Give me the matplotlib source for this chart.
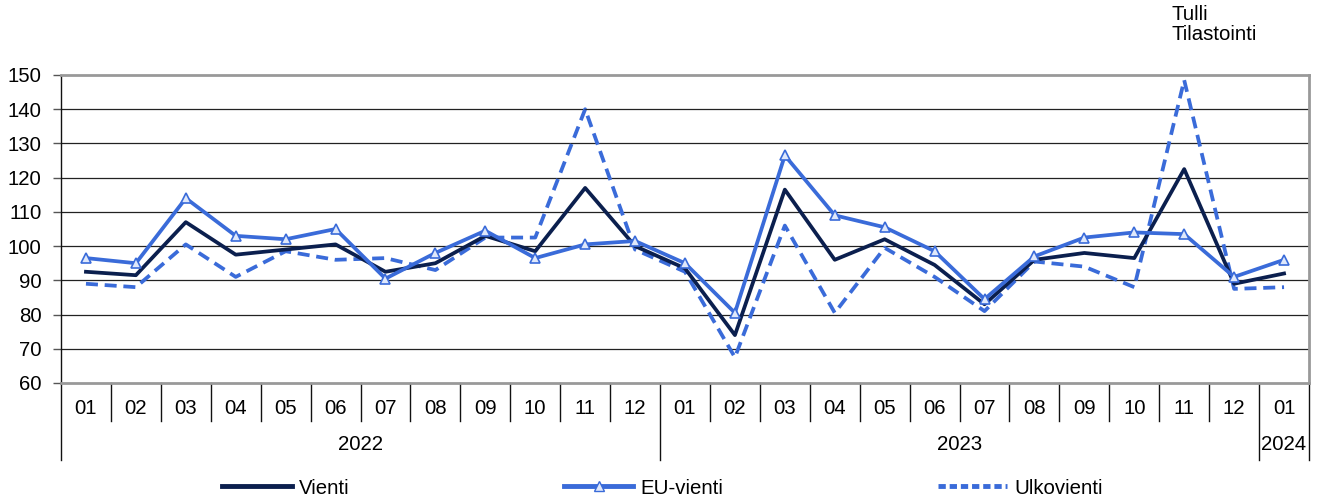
import matplotlib
matplotlib.use("Agg")
import matplotlib.pyplot as plt
from matplotlib.lines import Line2D
import matplotlib.transforms as mtransforms

plt.rcParams['font.family'] = ['Liberation Sans', 'DejaVu Sans']

months = ["01", "02", "03", "04", "05", "06", "07", "08", "09", "10", "11", "12",
          "01", "02", "03", "04", "05", "06", "07", "08", "09", "10", "11", "12",
          "01"]
years = ["2022", "2023", "2024"]
year_counts = [12, 12, 1]

vienti = [92.5, 91.5, 107, 97.5, 99, 100.5, 92.5, 95, 103, 98.5, 117, 100,
          93.5, 74, 116.5, 96, 102, 94.5, 83, 96, 98, 96.5, 122.5, 89, 92]
eu_vienti = [96.5, 95, 114, 103, 102, 105, 90.5, 98, 104.5, 96.5, 100.5, 101.5,
             95, 80.5, 126.5, 109, 105.5, 98.5, 84.5, 97, 102.5, 104, 103.5, 91, 96]
ulkovienti = [89, 88, 100.5, 91, 98.5, 96, 96.5, 93, 102.5, 102.5, 140, 99,
              92.5, 67.5, 106, 80.5, 99.5, 91, 81, 95.5, 94, 88, 148.5, 87.5, 88]

navy = '#0b1f4e'
blue = '#3a6bd9'
FS = 14.7

W, H = 1325, 504
fig = plt.figure(figsize=(W / 100, H / 100), dpi=100)
left, right, top, bottom = 61, 1309, 75, 383
ax = fig.add_axes([left / W, (H - bottom) / H, (right - left) / W, (bottom - top) / H])

x = list(range(len(months)))
ax.plot(x, ulkovienti, color=blue, lw=2.7, dashes=(3.2, 1.8), label='Ulkovienti', zorder=3)
ax.plot(x, vienti, color=navy, lw=2.7, label='Vienti', zorder=4)
ax.plot(x, eu_vienti, color=blue, lw=2.7, marker='^', ms=7, mfc='#dfe8fb', mec=blue,
        mew=1.2, label='EU-vienti', zorder=5)

ax.set_xlim(-0.5, len(months) - 0.5)
ax.set_ylim(60, 150)
ax.set_yticks(range(60, 151, 10))
ax.tick_params(axis='y', labelsize=FS, length=6, width=1, color='#555555', pad=8)
ax.set_xticks([])
for v in range(70, 150, 10):
    ax.axhline(v, color='#222222', lw=0.9, zorder=1)

for s in ['top', 'right', 'bottom']:
    ax.spines[s].set_color('#999999')
    ax.spines[s].set_linewidth(2)
ax.spines['left'].set_color('#111111')
ax.spines['left'].set_linewidth(1)

trans = mtransforms.blended_transform_factory(ax.transData, ax.transAxes)
ph = bottom - top
m_y = -(409 - bottom) / ph
y_y = -(444 - bottom) / ph
tick_end = -(421 - bottom) / ph
year_end = -(460 - bottom) / ph

for i, m in enumerate(months):
    ax.text(i, m_y, m, transform=trans, ha='center', va='center', fontsize=FS)

boundaries = [0]
for c in year_counts:
    boundaries.append(boundaries[-1] + c)
for i in range(len(months) + 1):
    yb = year_end if i in boundaries else tick_end
    ax.plot([i - 0.5, i - 0.5], [0, yb], transform=trans, color='#111111', lw=1,
            clip_on=False)
for yname, a, b in zip(years, boundaries[:-1], boundaries[1:]):
    ax.text((a + b - 1) / 2, y_y, yname, transform=trans, ha='center', va='center',
            fontsize=FS)

handles = [Line2D([], [], color=navy, lw=3.5),
           Line2D([], [], color=blue, lw=3.5, marker='^', ms=7, mfc='#dfe8fb', mec=blue),
           Line2D([], [], color=blue, lw=3.5, dashes=(1.5, 0.8))]
fig.legend(handles, ['Vienti', 'EU-vienti', 'Ulkovienti'], loc='center',
           bbox_to_anchor=(0.5, 1 - 488 / H), ncol=3, frameon=False, fontsize=FS,
           handlelength=3.4, handletextpad=0.35, columnspacing=10.5, borderaxespad=0)

fig.text(1172 / W, 1 - 5 / H, 'Tulli\nTilastointi', ha='left', va='top', fontsize=FS,
         linespacing=1.05)

fig.savefig('out.png', dpi=100)
